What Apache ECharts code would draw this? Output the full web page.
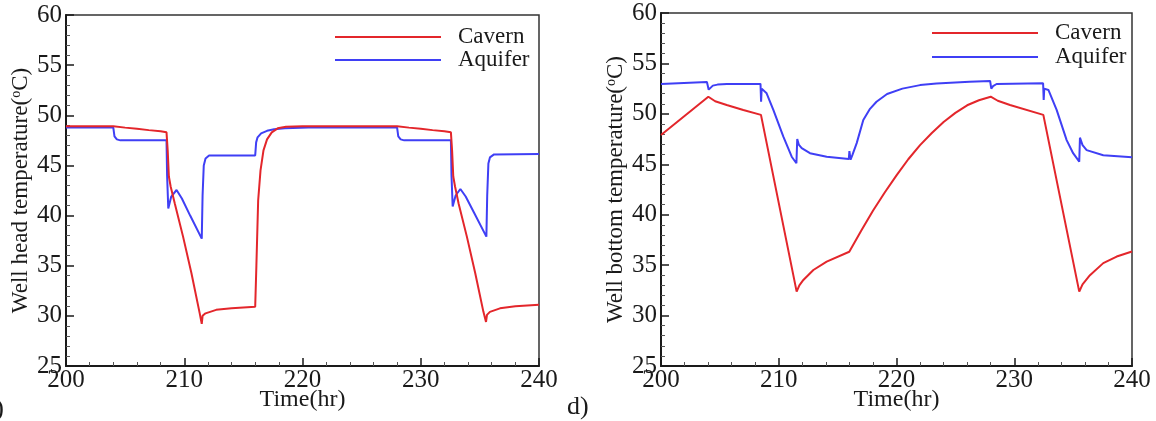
<!DOCTYPE html>
<html>
<head>
<meta charset="utf-8">
<script src="https://cdn.jsdelivr.net/npm/echarts@6/dist/echarts.min.js"></script>
<style>
  html, body { margin: 0; padding: 0; background: #fff; }
  #chart { width: 1156px; height: 421px; }
</style>
</head>
<body>
<div id="chart"></div>
<script>
// Time axis ticks (hr) and temperature axis range (°C)
const timeTicks = [200, 210, 220, 230, 240];
const tempRange = [25, 60];

// Well head temperature, cavern storage
const headCavernTime = [200, 204, 205, 206, 207, 208, 208.5, 208.6, 208.7, 208.85, 209.2, 209.9, 210.6, 211.3, 211.48, 211.55, 211.8, 212.7, 214, 216, 216.1, 216.25, 216.45, 216.7, 217.0, 217.4, 217.9, 218.6, 220, 228, 229, 230, 231, 232, 232.55, 232.65, 232.75, 232.9, 233.2, 233.9, 234.6, 235.3, 235.52, 235.6, 235.85, 236.7, 238, 240];
const headCavernTemp = [48.9, 48.9, 48.77, 48.65, 48.52, 48.4, 48.3, 46.5, 43.9, 42.9, 41.2, 37.9, 34.3, 30.3, 29.2, 30.0, 30.25, 30.6, 30.75, 30.9, 35.0, 41.5, 44.5, 46.5, 47.6, 48.3, 48.7, 48.85, 48.9, 48.9, 48.77, 48.65, 48.52, 48.4, 48.3, 46.5, 43.9, 42.9, 41.2, 37.9, 34.3, 30.4, 29.4, 30.1, 30.4, 30.75, 30.95, 31.1];

// Well head temperature, aquifer storage
const headAquiferTime = [200, 204, 204.1, 204.3, 204.6, 208.5, 208.55, 208.65, 208.9, 209.35, 209.8, 210.5, 211.48, 211.55, 211.65, 211.8, 212.1, 216, 216.08, 216.2, 216.5, 217.0, 217.6, 218.5, 220.5, 228, 228.1, 228.3, 228.6, 232.55, 232.6, 232.7, 232.95, 233.35, 233.8, 234.5, 235.55, 235.62, 235.72, 235.85, 236.2, 240];
const headAquiferTemp = [48.78, 48.78, 47.9, 47.6, 47.5, 47.5, 44.0, 40.7, 41.9, 42.55, 41.7, 40.0, 37.7, 42.0, 45.0, 45.7, 46.0, 46.0, 47.3, 47.8, 48.2, 48.45, 48.6, 48.7, 48.78, 48.78, 47.9, 47.6, 47.5, 47.5, 44.0, 40.9, 42.0, 42.65, 41.9, 40.3, 37.9, 42.0, 45.2, 45.8, 46.1, 46.15];

// Well bottom temperature, cavern storage
const bottomCavernTime = [200, 204.02, 204.6, 205.58, 206.99, 208.49, 211.52, 211.75, 212.09, 212.94, 214.07, 215.99, 217, 218, 219, 220, 221, 222, 223, 224, 225, 226, 227, 228, 228.6, 229.64, 232.47, 235.52, 235.8, 236.43, 237.56, 238.7, 240];
const bottomCavernTemp = [47.9, 51.7, 51.25, 50.88, 50.38, 49.9, 32.37, 33.0, 33.53, 34.52, 35.35, 36.33, 38.4, 40.4, 42.2, 43.9, 45.5, 46.9, 48.1, 49.2, 50.1, 50.85, 51.35, 51.7, 51.3, 50.88, 49.9, 32.37, 33.1, 34.0, 35.2, 35.85, 36.35];

// Well bottom temperature, aquifer storage
const bottomAquiferTime = [200, 203.9, 204.05, 204.15, 204.4, 204.8, 205.6, 208.45, 208.5, 208.55, 208.7, 208.97, 209.54, 210.39, 211.1, 211.5, 211.57, 211.7, 211.95, 212.65, 214.07, 215.95, 216.0, 216.1, 216.25, 216.62, 217.18, 217.75, 218.3, 219.2, 220.5, 222, 223.4, 226.2, 227.95, 228.05, 228.2, 228.5, 232.45, 232.5, 232.55, 232.9, 233.6, 234.45, 235.0, 235.52, 235.58, 235.8, 236.15, 237.56, 240];
const bottomAquiferTemp = [52.95, 53.15, 52.4, 52.55, 52.8, 52.9, 52.97, 52.97, 51.2, 52.5, 52.4, 52.04, 50.4, 47.74, 45.75, 45.1, 47.5, 46.95, 46.6, 46.1, 45.75, 45.52, 46.3, 45.45, 45.9, 47.1, 49.4, 50.5, 51.2, 51.97, 52.5, 52.85, 53.0, 53.19, 53.26, 52.5, 52.75, 52.96, 53.03, 51.37, 52.5, 52.37, 50.4, 47.4, 46.1, 45.26, 47.64, 46.9, 46.4, 45.9, 45.7];

const zip = (xs, ys) => xs.map((x, i) => [x, ys[i]]);

const RED = '#e3262b';
const BLUE = '#3f3ff5';
const FONT = '"Liberation Serif", "Times New Roman", serif';
const INK = '#1a1a1a';

function xAxisFor(gridIndex) {
  return {
    type: 'value', gridIndex,
    min: timeTicks[0], max: timeTicks[timeTicks.length - 1], interval: 10,
    name: 'Time(hr)', nameLocation: 'middle', nameGap: 22, nameMoveOverlap: false,
    nameTextStyle: { fontFamily: FONT, fontSize: 24, color: INK },
    axisLine: { show: true, onZero: false, lineStyle: { color: INK, width: 2 } },
    axisTick: { show: true, inside: true, length: 8, lineStyle: { color: INK, width: 1.5 } },
    minorTick: { show: true, splitNumber: 5, length: 4, lineStyle: { color: '#555', width: 1 } },
    axisLabel: { fontFamily: FONT, fontSize: 25, color: INK, margin: 2 },
    splitLine: { show: false }
  };
}

function yAxisFor(gridIndex, title, gap) {
  return {
    type: 'value', gridIndex,
    min: tempRange[0], max: tempRange[1], interval: 5,
    name: title, nameLocation: 'middle', nameGap: gap, nameMoveOverlap: false,
    nameTextStyle: {
      fontFamily: FONT, fontSize: 23, color: INK,
      rich: { sup: { fontFamily: FONT, fontSize: 14, color: INK, verticalAlign: 'top' } }
    },
    axisLine: { show: true, onZero: false, lineStyle: { color: INK, width: 2 } },
    axisTick: { show: true, inside: true, length: 8, lineStyle: { color: INK, width: 1.5 } },
    minorTick: { show: true, splitNumber: 5, length: 4, lineStyle: { color: '#555', width: 1 } },
    axisLabel: { fontFamily: FONT, fontSize: 25, color: INK, margin: 4 },
    splitLine: { show: false }
  };
}

// Legend rows: a plain coloured stroke followed by the series name
function legendAt(left, top, rowHeight) {
  return {
    orient: 'vertical', left, top, padding: 0,
    icon: 'rect', itemWidth: 106, itemHeight: 2, itemGap: 0,
    textStyle: { fontFamily: FONT, fontSize: 23, color: INK, lineHeight: rowHeight, padding: [0, 0, 0, 12] },
    data: ['Cavern', 'Aquifer']
  };
}

function lineSeries(name, color, xi, data) {
  return {
    name, type: 'line', xAxisIndex: xi, yAxisIndex: xi,
    data, symbol: 'none', showSymbol: false, smooth: false,
    lineStyle: { color, width: 2 }, itemStyle: { color },
    z: name === 'Cavern' ? 3 : 2
  };
}

const chart = echarts.init(document.getElementById('chart'), null, { renderer: 'canvas' });
chart.setOption({
  animation: false,
  backgroundColor: '#fff',
  grid: [
    { left: 66, top: 15, width: 473, height: 351, outerBoundsMode: 'none', containLabel: false, show: true, borderColor: '#333', borderWidth: 1.5, backgroundColor: 'transparent' },
    { left: 661, top: 13, width: 471, height: 353, outerBoundsMode: 'none', containLabel: false, show: true, borderColor: '#333', borderWidth: 1.5, backgroundColor: 'transparent' }
  ],
  xAxis: [xAxisFor(0), xAxisFor(1)],
  yAxis: [
    yAxisFor(0, 'Well head temperature({sup|o}C)', 34),
    yAxisFor(1, 'Well bottom temperature({sup|o}C)', 34)
  ],
  legend: [legendAt(335, 25.5, 23), legendAt(932, 21, 24)],
  series: [
    lineSeries('Cavern', RED, 0, zip(headCavernTime, headCavernTemp)),
    lineSeries('Aquifer', BLUE, 0, zip(headAquiferTime, headAquiferTemp)),
    lineSeries('Cavern', RED, 1, zip(bottomCavernTime, bottomCavernTemp)),
    lineSeries('Aquifer', BLUE, 1, zip(bottomAquiferTime, bottomAquiferTemp))
  ],
  graphic: [
    { type: 'text', right: 1152, top: 396, style: { text: 'c)', font: '26px ' + FONT, fill: INK } },
    { type: 'text', left: 567, top: 394, style: { text: 'd)', font: '26px ' + FONT, fill: INK } }
  ]
});
</script>
</body>
</html>
